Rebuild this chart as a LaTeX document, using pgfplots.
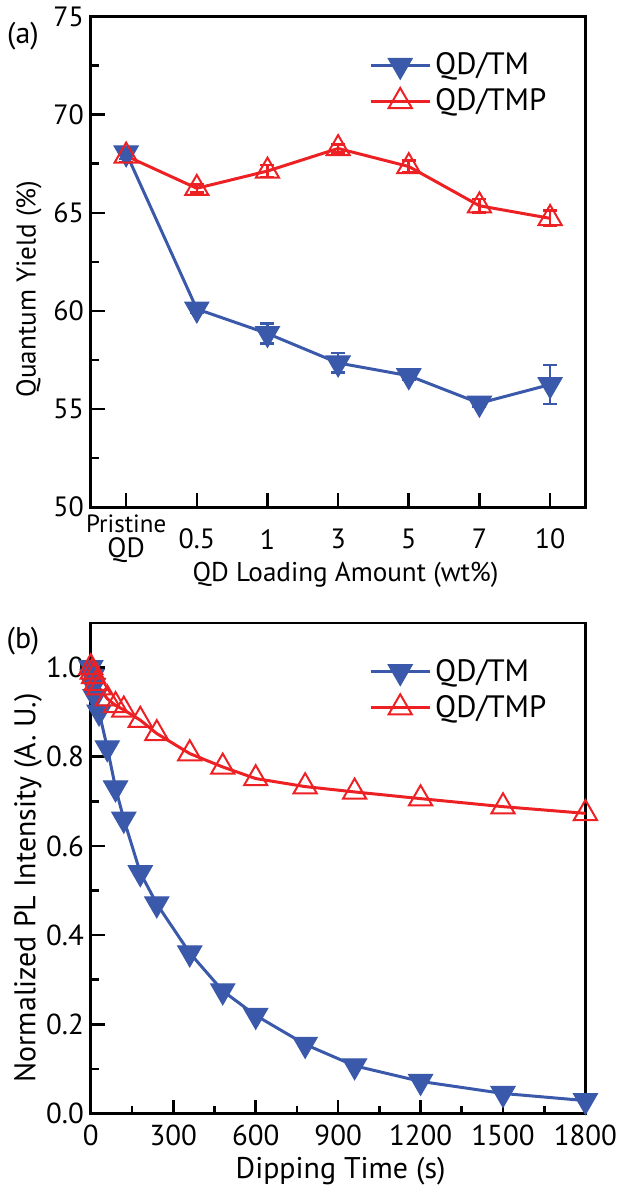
\documentclass[border=0pt]{standalone}
\usepackage{pgfplots}
\pgfplotsset{compat=1.18}
\usepackage{fontspec}
\setmainfont{PT Sans}
\definecolor{tmblue}{RGB}{59,89,170}
\definecolor{tmpred}{RGB}{237,32,36}

\pgfplotsset{
  qdstyle/.style={
    scale only axis,
    width=248pt, height=246pt,
    axis line style={line width=1.4pt},
    tick align=inside,
    xtick pos=bottom, ytick pos=left,
    major tick length=7pt, minor tick length=4pt,
    every tick/.style={black, line width=1.3pt},
    tick label style={font=\fontsize{14}{15}\selectfont},
    /pgf/number format/assume math mode=true,
    /pgf/number format/1000 sep={},
    label style={font=\fontsize{13.6}{16}\selectfont},
    legend style={draw=none, fill=none, font=\fontsize{15.5}{18}\selectfont,
      row sep=1.5pt, inner sep=0pt,
      nodes={inner sep=2pt}},
    legend cell align=left,
    legend image code/.code={
      \draw[mark repeat=2, mark phase=2] plot coordinates {(0cm,0cm) (0.52cm,0cm) (1.04cm,0cm)};},
  },
  tmline/.style={tmblue, line width=1.5pt, mark=triangle*, mark size=7pt,
    mark options={rotate=180, fill=tmblue, line width=0.5pt}},
  tmpline/.style={tmpred, line width=1.5pt, mark=triangle, mark size=6.7pt,
    mark options={line width=1pt}},
}

\begin{document}
\begin{tikzpicture}
% (a) quantum yield vs loading
\begin{axis}[qdstyle,
  at={(0,0)}, anchor=north west,
  xmin=-0.5, xmax=6.5, ymin=50, ymax=75,
  xtick={0,1,2,3,4,5,6},
  xticklabels={{\fontsize{12.5}{12.5}\selectfont Pristine\\QD}, 0.5, 1, 3, 5, 7, 10},
  xticklabel style={align=center, anchor=center, yshift=-16pt,
    font=\fontsize{14}{12.5}\selectfont},
  ytick={50,55,60,65,70,75},
  minor ytick={52.5,57.5,62.5,67.5,72.5},
  xlabel={QD Loading Amount (wt\%)},
  ylabel={Quantum Yield (\%)},
  xlabel style={at={(axis description cs:0.515,-0.137)}, anchor=center},
  ylabel style={at={(axis description cs:-0.125,0.445)}, anchor=center},
  legend style={at={(axis description cs:0.93,0.935)}, anchor=north east},
]
\addplot+[tmline, error bars/.cd, y dir=both, y explicit,
  error bar style={line width=1.3pt, tmblue},
  error mark options={rotate=90, mark size=3.5pt, line width=1.3pt, tmblue}]
  coordinates {
  (0,68.05) +- (0,0.3)
  (1,60.1) +- (0,0.2)
  (2,58.85) +- (0,0.5)
  (3,57.35) +- (0,0.5)
  (4,56.7) +- (0,0.2)
  (5,55.3) +- (0,0.2)
  (6,56.25) +- (0,1.0)
};
\addlegendentry{QD/TM}
\addplot+[tmpline, error bars/.cd, y dir=both, y explicit,
  error bar style={line width=1.3pt, tmpred},
  error mark options={rotate=90, mark size=3.5pt, line width=1.3pt, tmpred}]
  coordinates {
  (0,67.9) +- (0,0.3)
  (1,66.25) +- (0,0.2)
  (2,67.13) +- (0,0.3)
  (3,68.28) +- (0,0.2)
  (4,67.36) +- (0,0.3)
  (5,65.36) +- (0,0.35)
  (6,64.72) +- (0,0.4)
};
\addlegendentry{QD/TMP}
\end{axis}
\node[font=\fontsize{15}{18}\selectfont] at (-34pt,-10pt) {(a)};

% (b) normalized PL intensity vs dipping time
\begin{axis}[qdstyle,
  at={(0,-304pt)}, anchor=north west,
  xmin=0, xmax=1800, ymin=0, ymax=1.1,
  xtick={0,300,...,1800},
  minor xtick={150,450,...,1650},
  ytick={0,0.2,...,1.0},
  minor ytick={0.1,0.3,...,0.9},
  tick label style={font=\fontsize{14.5}{15}\selectfont},
  label style={font=\fontsize{15}{18}\selectfont},
  yticklabel style={/pgf/number format/.cd, fixed, fixed zerofill, precision=1},
  xticklabel style={yshift=-2pt},
  xlabel={Dipping Time (s)},
  ylabel={Normalized PL Intensity (A. U.)},
  xlabel style={at={(axis description cs:0.505,-0.118)}, anchor=center},
  ylabel style={at={(axis description cs:-0.127,0.46)}, anchor=center},
  legend style={at={(axis description cs:0.93,0.935)}, anchor=north east},
]
\addplot+[tmline] coordinates {
  (0,1.0) (5,0.98) (10,0.96) (15,0.935) (30,0.90) (60,0.82) (90,0.73)
  (120,0.66) (180,0.54) (240,0.47) (360,0.36) (480,0.275) (600,0.22)
  (780,0.155) (960,0.107) (1200,0.072) (1500,0.045) (1800,0.029)
};
\addlegendentry{QD/TM}
\addplot+[tmpline] coordinates {
  (0,1.0) (5,0.99) (10,0.98) (20,0.965) (30,0.955) (60,0.93) (90,0.915)
  (120,0.905) (180,0.882) (240,0.852) (360,0.807) (480,0.777) (600,0.751)
  (780,0.733) (960,0.721) (1200,0.706) (1500,0.688) (1800,0.673)
};
\addlegendentry{QD/TMP}
\end{axis}
\node[font=\fontsize{15}{18}\selectfont] at (-34pt,-313pt) {(b)};
\end{tikzpicture}
\end{document}
